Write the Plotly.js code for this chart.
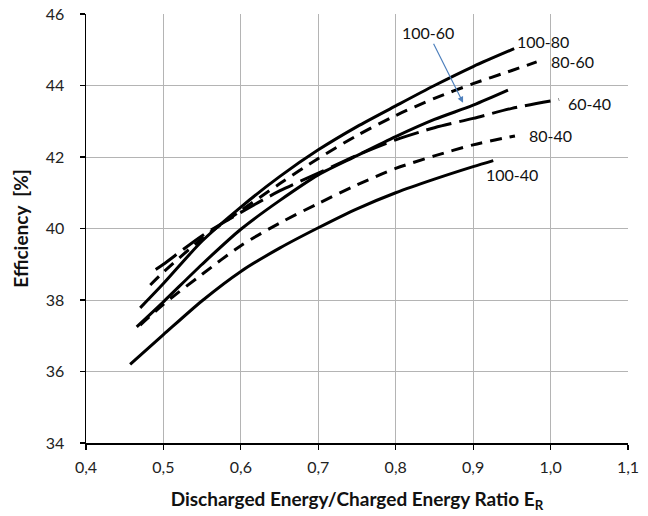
<!DOCTYPE html>
<html>
<head>
<meta charset="utf-8">
<script src="https://cdn.plot.ly/plotly-3.0.1.min.js"></script>
<style>html,body{margin:0;padding:0;background:#fff;}#chart{width:648px;height:516px;}</style>
</head>
<body>
<div id="chart"></div>
<script>
// Series data (x = discharged/charged energy ratio, y = efficiency %)
const x_100_80 = [0.47, 0.5, 0.55, 0.6, 0.65, 0.7, 0.75, 0.8, 0.85, 0.9, 0.953];
const y_100_80 = [37.78, 38.46, 39.65, 40.6, 41.45, 42.2, 42.85, 43.43, 44.0, 44.53, 45.03];

const x_80_60 = [0.483, 0.5, 0.55, 0.6, 0.65, 0.7, 0.75, 0.8, 0.85, 0.9, 0.95, 0.982];
const y_80_60 = [38.42, 38.78, 39.72, 40.5, 41.25, 41.96, 42.6, 43.16, 43.64, 44.05, 44.42, 44.66];

const x_100_60 = [0.4655, 0.5, 0.55, 0.6, 0.65, 0.7, 0.75, 0.8, 0.85, 0.9, 0.945];
const y_100_60 = [37.25, 37.95, 39.0, 39.98, 40.78, 41.5, 42.04, 42.57, 43.05, 43.45, 43.87];

const x_60_40 = [0.49, 0.5, 0.55, 0.6, 0.65, 0.7, 0.75, 0.8, 0.85, 0.9, 0.95, 1.011];
const y_60_40 = [38.85, 39.0, 39.8, 40.45, 41.05, 41.55, 42.05, 42.48, 42.82, 43.08, 43.36, 43.61];

const x_80_40 = [0.47, 0.5, 0.55, 0.6, 0.65, 0.7, 0.75, 0.8, 0.85, 0.9, 0.954];
const y_80_40 = [37.3, 37.88, 38.72, 39.52, 40.15, 40.7, 41.22, 41.68, 42.03, 42.34, 42.59];

const x_100_40 = [0.457, 0.5, 0.55, 0.6, 0.65, 0.7, 0.75, 0.8, 0.85, 0.9, 0.926];
const y_100_40 = [36.2, 37.03, 37.98, 38.8, 39.45, 40.02, 40.55, 41.0, 41.38, 41.73, 41.9];

// Curve labels and their anchor positions (data coords)
const labelNames = ["100-80", "80-60", "60-40", "80-40", "100-40"];
const labelX = [0.990, 1.028, 1.050, 1.0005, 0.950];
const labelY = [45.22, 44.66, 43.51, 42.59, 41.52];

// Arrowed label
const arrowName = "100-60";
const arrowHeadX = 0.887;
const arrowHeadY = 43.52;

const xTicks = [0.4, 0.5, 0.6, 0.7, 0.8, 0.9, 1.0, 1.1];
const yTicks = [34, 36, 38, 40, 42, 44, 46];

const FONT = "Lato, 'Noto Sans', sans-serif";

function series(x, y, dash) {
  return {
    x: x, y: y, type: "scatter", mode: "lines",
    line: {color: "#000", width: 3, dash: dash, shape: "spline", smoothing: 0.8},
    hoverinfo: "skip", showlegend: false
  };
}

const data = [
  series(x_100_80, y_100_80, "solid"),
  series(x_80_60, y_80_60, "12px,8px"),
  series(x_100_60, y_100_60, "solid"),
  series(x_60_40, y_60_40, "26px,8px"),
  series(x_80_40, y_80_40, "12px,8px"),
  series(x_100_40, y_100_40, "solid")
];

const annotations = labelNames.map((t, i) => ({
  x: labelX[i], y: labelY[i], xref: "x", yref: "y",
  text: t, showarrow: false,
  font: {family: FONT, size: 16, color: "#111"}
}));
annotations.push({
  x: arrowHeadX, y: arrowHeadY, xref: "x", yref: "y",
  text: arrowName, showarrow: true,
  ax: -35, ay: -70,
  arrowcolor: "#4f81bd", arrowwidth: 1.2, arrowhead: 2, arrowsize: 1,
  font: {family: FONT, size: 16, color: "#111"}
});

const layout = {
  width: 648, height: 516,
  margin: {l: 86, r: 20, t: 14, b: 73},
  paper_bgcolor: "#fff", plot_bgcolor: "#fff",
  separators: ",.",
  font: {family: FONT, size: 14, color: "#111"},
  xaxis: {
    range: [0.4, 1.1], tickvals: xTicks, tickformat: ".1f",
    showgrid: true, gridcolor: "#b4b4b4", gridwidth: 1,
    zeroline: false, showline: true, linecolor: "#000", linewidth: 1.5,
    ticks: "outside", ticklen: 5, tickcolor: "#000", tickwidth: 1.2,
    ticklabelstandoff: 4,
    tickfont: {family: FONT, size: 16, color: "#222"},
    title: {text: "Discharged Energy/Charged Energy Ratio E<sub>R</sub>", standoff: 18,
            font: {family: FONT, size: 19, color: "#111", weight: "bold"}}
  },
  yaxis: {
    range: [34, 46], tickvals: yTicks,
    showgrid: true, gridcolor: "#b4b4b4", gridwidth: 1,
    zeroline: false, showline: true, linecolor: "#000", linewidth: 1.5,
    ticks: "outside", ticklen: 5, tickcolor: "#000", tickwidth: 1.2,
    ticklabelstandoff: 12,
    tickfont: {family: FONT, size: 16, color: "#222"},
    title: {text: "Efficiency  [%]", standoff: 12,
            font: {family: FONT, size: 19, color: "#111", weight: "bold"}}
  },
  annotations: annotations
};

Plotly.newPlot("chart", data, layout, {displayModeBar: false, staticPlot: true});
</script>
</body>
</html>
